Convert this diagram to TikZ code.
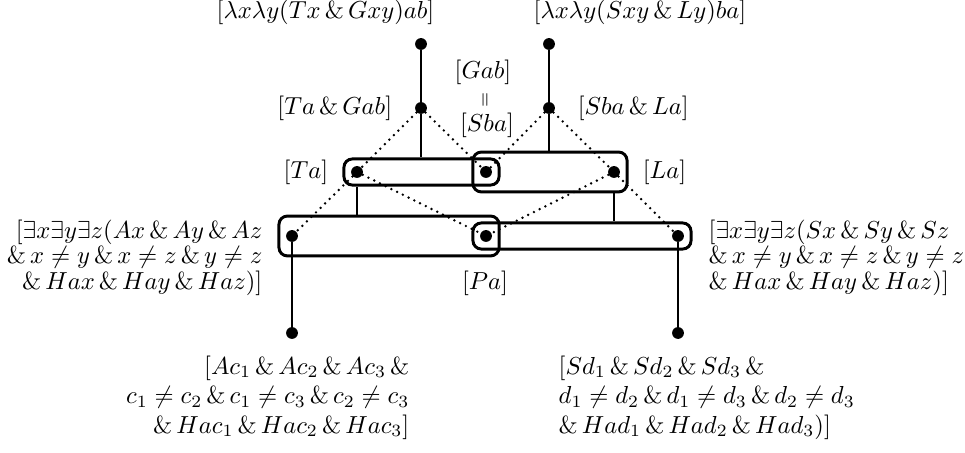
\documentclass[tikz,border=0pt]{standalone}
\usepackage{amsmath,amssymb}
\usetikzlibrary{positioning,fit}
\newcommand{\cj}{\,\&\,}

\begin{document}
\begin{tikzpicture}[x=0.4065pt,y=-0.4065pt,node distance=5.6pt,
  vtx/.style={circle,fill=black,inner sep=0pt,minimum size=4.8pt},
  hull/.style={draw,line width=1.2pt,rounded corners=3.4pt,inner xsep=2.7pt},
  flat/.style={hull,inner ysep=2.7pt},
  tall/.style={hull,inner ysep=5.5pt},
  link/.style={line width=1.2pt},
  tie/.style={line width=1.1pt,line cap=round,dash pattern=on 0pt off 2.6pt}]
\useasboundingbox (0,0) rectangle (965,453);

% points of the lattice
\node[vtx] (lam1) at (421,44) {};
\node[vtx] (lam2) at (549,44) {};
\node[vtx] (tg) at (421,108) {};
\node[vtx] (sl) at (549,108) {};
\node[vtx] (ta) at (357,172) {};
\node[vtx] (gs) at (486,172) {};
\node[vtx] (la) at (614,172) {};
\node[vtx] (ea) at (292,236) {};
\node[vtx] (pa) at (486,236) {};
\node[vtx] (es) at (678,236) {};
\node[vtx] (ca) at (292,333) {};
\node[vtx] (cs) at (678,333) {};

% boxes
\node[flat,fit=(ta)(gs)] (tabox) {};
\node[tall,fit=(gs)(la)] (labox) {};
\node[tall,fit=(ea)(pa)] (eabox) {};
\node[flat,fit=(pa)(es)] (esbox) {};

% solid connectors
\draw[link] (lam1) -- (tg);
\draw[link] (lam2) -- (sl);
\draw[link] (tg) -- (tg |- tabox.north);
\draw[link] (sl) -- (sl |- labox.north);
\draw[link] (ta |- tabox.south) -- (ta |- eabox.north);
\draw[link] (la |- labox.south) -- (la |- esbox.north);
\draw[link] (ea) -- (ca);
\draw[link] (es) -- (cs);

% dotted connectors
\draw[tie] (tg) -- (ta) -- (ea);
\draw[tie] (tg) -- (gs);
\draw[tie] (ta) -- (pa);
\draw[tie] (sl) -- (gs);
\draw[tie] (sl) -- (la) -- (es);
\draw[tie] (la) -- (pa);

% labels
\node[anchor=east] (top1) at (443,12) {$[\lambda x\lambda y(Tx\cj Gxy)ab]$};
\node[anchor=west] (top2) at (525,12) {$[\lambda x\lambda y(Sxy\cj Ly)ba]$};
\node[left=of tg] (tgl) {$[Ta\cj Gab]$};
\node[right=of sl] (sll) {$[Sba\cj La]$};
\node (gab) at (483,72) {$[Gab]$};
\node[rotate=90] (eqv) at (486,100) {$\scriptstyle=$};
\node (sba) at (487,125) {$[Sba]$};
\node[left=of ta] (tal) {$[Ta]$};
\node[right=of la] (lal) {$[La]$};
\node (pal) at (485,283) {$[Pa]$};
\node[anchor=north east,align=right] (eal) at (271,211)
  {$[\exists x\exists y\exists z(Ax\cj Ay\cj Az$\\[-1.6pt]
   $\&\,x\neq y\cj x\neq z\cj y\neq z$\\[-1.6pt]
   $\&\,Hax\cj Hay\cj Haz)]$};
\node[anchor=north west,align=left] (esl) at (700,211)
  {$[\exists x\exists y\exists z(Sx\cj Sy\cj Sz$\\[-1.6pt]
   $\&\,x\neq y\cj x\neq z\cj y\neq z$\\[-1.6pt]
   $\&\,Hax\cj Hay\cj Haz)]$};
\node[anchor=north east,align=right] (cal) at (418,347)
  {$[Ac_1\cj Ac_2\cj Ac_3\,\&$\\
   $c_1\neq c_2\cj c_1\neq c_3\cj c_2\neq c_3$\\
   $\&\,Hac_1\cj Hac_2\cj Hac_3]$};
\node[anchor=north west,align=left] (csl) at (550,347)
  {$[Sd_1\cj Sd_2\cj Sd_3\,\&$\\
   $d_1\neq d_2\cj d_1\neq d_3\cj d_2\neq d_3$\\
   $\&\,Had_1\cj Had_2\cj Had_3)]$};
\end{tikzpicture}
\end{document}
